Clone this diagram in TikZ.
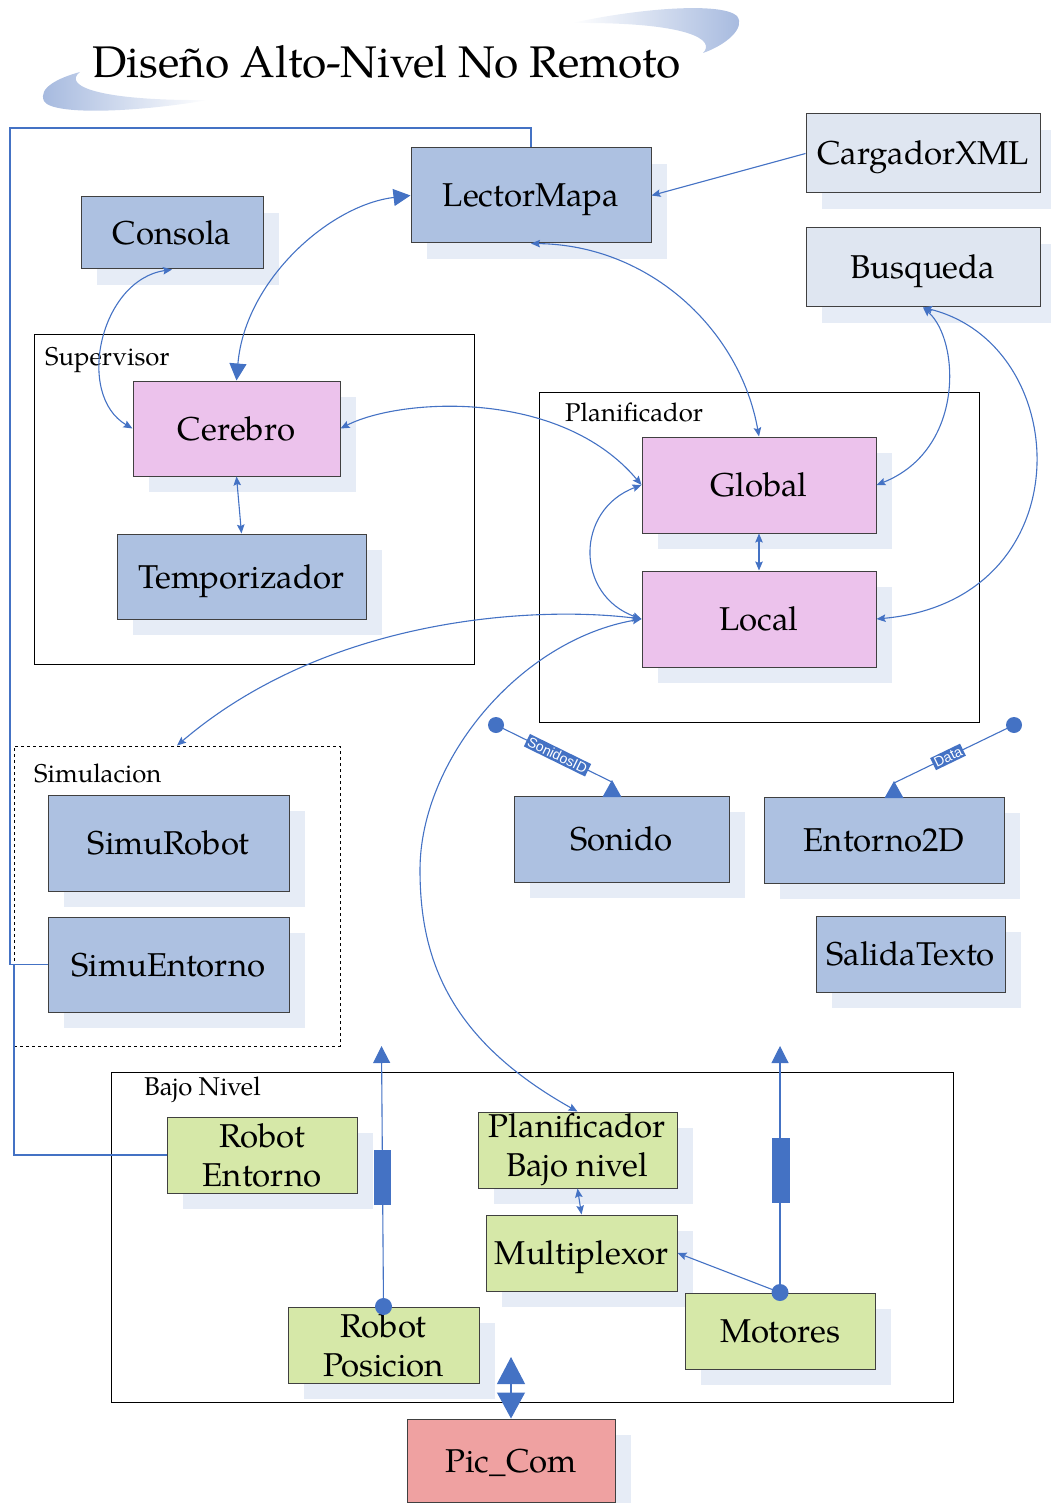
\documentclass[tikz,border=0pt]{standalone}
\usepackage{fontspec}
\setmainfont{TeX Gyre Pagella}
\newfontfamily\tagfont{Liberation Sans}
\usetikzlibrary{arrows.meta,shadows}

\definecolor{linkblue}{HTML}{4472C4}
\definecolor{modblue}{HTML}{ADC1E1}
\definecolor{modlight}{HTML}{DFE6F1}
\definecolor{modpink}{HTML}{ECC2EC}
\definecolor{modgreen}{HTML}{D6E8A8}
\definecolor{modred}{HTML}{EFA1A1}
\definecolor{shade}{HTML}{E6ECF6}
\definecolor{edge}{HTML}{404040}
\definecolor{swoosh}{HTML}{A4B8DE}

\tikzset{
  module/.style={draw=edge, line width=1pt, inner sep=0pt, align=center,
    font=\fontsize{33}{39}\selectfont,
    general shadow={fill=shade, shadow xshift=16pt, shadow yshift=-16pt}},
  word/.style={text height=23pt, text depth=0pt},
  bluemod/.style={module, fill=modblue},
  lightmod/.style={module, fill=modlight},
  pinkmod/.style={module, fill=modpink},
  greenmod/.style={module, fill=modgreen},
  redmod/.style={module, fill=modred},
  group/.style={draw=black, line width=0.9pt, inner sep=0pt},
  grouplabel/.style={anchor=west, inner sep=0pt, font=\fontsize{25.7}{29}\selectfont},
  link/.style={draw=linkblue, line width=1.1pt},
  tip/.tip={Stealth[length=9pt,width=7.5pt,inset=1.5pt]},
  bigtip/.tip={Triangle[length=17pt,width=17pt]},
  both/.style={link, tip-tip},
  wire/.style={draw=linkblue, line width=1.1pt},
  portdot/.style={circle, fill=linkblue, inner sep=0pt, minimum size=17pt},
  tag/.style={fill=linkblue, text=white, inner sep=1.8pt, sloped,
    font=\tagfont\fontsize{14}{14}\selectfont},
}

\begin{document}
\begin{tikzpicture}[x=1pt,y=-1pt]
\useasboundingbox (0,0) rectangle (1050,1503);

% title swooshes
\shade[left color=white, right color=swoosh]
  (572,23) .. controls (640,8) and (722,2) .. (737,16)
  .. controls (746,28) and (726,45) .. (703,53)
  .. controls (716,40) and (690,22) .. (572,23) -- cycle;
\shade[left color=swoosh, right color=white]
  (208,100) .. controls (140,112) and (52,116) .. (44,101)
  .. controls (38,88) and (58,78) .. (80,72)
  .. controls (62,86) and (100,101) .. (208,100) -- cycle;
\node[anchor=base, inner sep=0pt, font=\fontsize{44.3}{48}\selectfont] (title) at (386.5,78) {Diseño Alto-Nivel No Remoto};

% groups
\node[group, minimum width=440pt, minimum height=330pt] (sup) at (254,499) {};
\node[grouplabel] (suplbl) at (45,360) {Supervisor};
\node[group, minimum width=440pt, minimum height=330pt] (plan) at (759,557) {};
\node[grouplabel] (planlbl) at (565,412) {Planificador};
\node[group, dashed, minimum width=326pt, minimum height=300pt] (sim) at (177,896) {};
\node[grouplabel] (simlbl) at (34,773) {Simulacion};
\node[group, minimum width=842pt, minimum height=330pt] (bajo) at (532,1237) {};
\node[grouplabel] (bajolbl) at (144,1090) {Bajo Nivel};

% modules
\node[bluemod, word, minimum width=240pt, minimum height=95pt] (lector) at (531,195.5) {LectorMapa};
\node[lightmod, word, minimum width=234pt, minimum height=79pt] (cargador) at (923,153.5) {CargadorXML};
\node[lightmod, word, minimum width=234pt, minimum height=79pt] (busqueda) at (923,267.5) {Busqueda};
\node[bluemod, word, minimum width=182pt, minimum height=72pt] (consola) at (172,233) {Consola};
\node[pinkmod, word, minimum width=207pt, minimum height=95pt] (cerebro) at (236.5,428.5) {Cerebro};
\node[bluemod, word, minimum width=249pt, minimum height=85pt] (temp) at (241.5,576.5) {Temporizador};
\node[pinkmod, word, minimum width=234pt, minimum height=96pt] (global) at (759,485) {Global};
\node[pinkmod, word, minimum width=234pt, minimum height=96pt] (local) at (759,619) {Local};
\node[bluemod, word, minimum width=241pt, minimum height=96pt] (simurobot) at (168.5,843) {SimuRobot};
\node[bluemod, word, minimum width=241pt, minimum height=95pt] (simuent) at (168.5,964.5) {SimuEntorno};
\node[bluemod, word, minimum width=215pt, minimum height=86pt] (sonido) at (621.5,839) {Sonido};
\node[bluemod, word, minimum width=240pt, minimum height=86pt] (entorno) at (884,840) {Entorno2D};
\node[bluemod, word, minimum width=189pt, minimum height=76pt] (salida) at (910.5,954) {SalidaTexto};
\node[greenmod, minimum width=190pt, minimum height=76pt] (robotent) at (262,1155) {Robot\\Entorno};
\node[greenmod, minimum width=199pt, minimum height=76pt] (pbn) at (577.5,1150) {Planificador\\Bajo nivel};
\node[greenmod, word, minimum width=191pt, minimum height=76pt] (mux) at (581.5,1253) {Multiplexor};
\node[greenmod, minimum width=191pt, minimum height=76pt] (robotpos) at (383.5,1345) {Robot\\Posicion};
\node[greenmod, word, minimum width=190pt, minimum height=76pt] (motores) at (780,1331) {Motores};
\node[redmod, word, minimum width=208pt, minimum height=83pt] (pic) at (511,1460.5) {Pic\_Com};

% wiring from LectorMapa round the left side
\draw[wire] (lector.north) -- (531,128) -| (10,964.5) -- (simuent.west);
\draw[wire] (simuent.west) -- (14,964.5) |- (robotent.west);

% connectors between modules
\draw[link, -tip] (cargador.west) -- (lector.east);
\draw[link, bigtip-bigtip] (lector.west) .. controls (330,205) and (245,280) .. (cerebro.north);
\draw[both] (consola.south) .. controls (100,280) and (75,395) .. (cerebro.west);
\draw[both] (cerebro.south) -- (temp.north);
\draw[both] (lector.south) .. controls (650,245) and (740,330) .. (global.north);
\draw[both] (cerebro.east) .. controls (400,398) and (560,388) .. (global.west);
\draw[both] (global.west) .. controls (575,510) and (575,595) .. (local.west);
\draw[both] (global.south) -- (local.north);
\draw[both] (busqueda.south) .. controls (960,340) and (965,450) .. (global.east);
\draw[both] (busqueda.south) .. controls (1075,345) and (1085,600) .. (local.east);
\draw[both] (local.west) .. controls (540,606) and (330,615) .. (sim.north);
\draw[both] (local.west) .. controls (520,640) and (420,760) .. (420,870)
  .. controls (420,960) and (450,1040) .. (pbn.north);
\draw[both] (pbn.south) -- (mux.north);

% output ports of the low level
\node[portdot] (motdot) at (motores.north) {};
\coordinate (motout) at (780,1046);
\draw[link, -bigtip] (motdot.center) -- (motout);
\fill[linkblue] (771.5,1138) rectangle (789.5,1203);
\draw[link, -tip] (motdot.center) -- (mux.east);

\node[portdot] (posdot) at (robotpos.north) {};
\coordinate (posout) at (381.5,1046);
\draw[link, -bigtip] (posdot.center) -- (posout);
\fill[linkblue] (374,1150) rectangle (391,1205);

% link to the PIC
\coordinate (picup) at (511,1357);
\draw[link, {Triangle[length=27pt,width=28pt]}-{Triangle[length=26pt,width=28pt]}] (picup) -- (pic.north);

% data inputs
\node[portdot, minimum size=16pt] (sndsrc) at (496,725) {};
\coordinate (sndin) at (612,782);
\fill[linkblue] (602.5,797) -- (612,780) -- (621.5,797) -- cycle;
\draw[link] (sndsrc.center) -- node[tag, pos=0.53] {SonidosID} (sndin);

\node[portdot, minimum size=16pt] (datsrc) at (1014,725) {};
\coordinate (datin) at (894,783);
\fill[linkblue] (884.5,798) -- (894,781) -- (903.5,798) -- cycle;
\draw[link] (datsrc.center) -- node[tag, pos=0.55] {Data} (datin);

\end{tikzpicture}
\end{document}
